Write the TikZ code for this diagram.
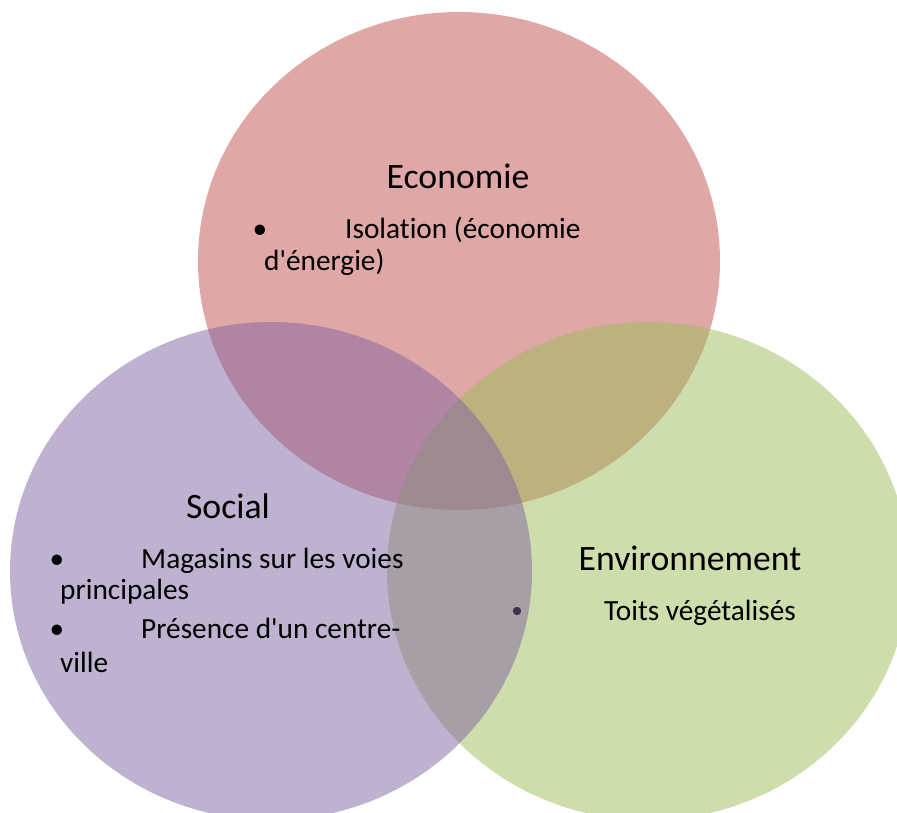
\documentclass[tikz,border=0pt]{standalone}
\usepackage{fontspec}
\setmainfont{Carlito}[Ligatures={TeXOff,NoCommon}]
\definecolor{ecored}{HTML}{C0504D}
\definecolor{envgreen}{HTML}{9BBB59}
\definecolor{socpurple}{HTML}{8064A2}
\definecolor{dotpurple}{HTML}{3F3151}
\tikzset{
  venn/.style={fill opacity=0.5},
  title/.style={anchor=base, inner sep=0pt, font=\fontsize{35.7}{42}\selectfont},
  item/.style={anchor=base west, inner sep=0pt, font=\fontsize{29.3}{34}\selectfont},
  bullet/.style={item, anchor=base},
}

\begin{document}
\begin{tikzpicture}[x=1pt,y=-1pt]
    \clip (0,0) rectangle (897,812) ;
\fill[ecored,venn] (459,261) ellipse [x radius=261, y radius=249] ; % Economie
\fill[envgreen,venn] (648,571) ellipse [x radius=261, y radius=249] ; % Environnement
\fill[socpurple,venn] (271,571) ellipse [x radius=261, y radius=249] ; % Social
\node[title] (eco) at (458,188) {Economie} ;
\node[bullet] (ecob1) at (260,238) {•} ;
\node[item] (ecot1) at (345,238) {Isolation (économie} ;
\node[item] (ecot1b) at (264,270) {d'énergie)} ;
\node[title] (soc) at (228,518) {Social} ;
\node[bullet] (socb1) at (57,568) {•} ;
\node[item] (soct1) at (141,568) {Magasins sur les voies} ;
\node[item] (soct1b) at (60,599) {principales} ;
\node[bullet] (socb2) at (57,638) {•} ;
\node[item] (soct2) at (141,638) {Présence d'un centre-} ;
\node[item] (soct2b) at (60,672) {ville} ;
\node[title] (env) at (690,570) {Environnement} ;
\fill[dotpurple] (517,611) circle (4.2) ; % envb1
\node[item] (envt1) at (604,620) {Toits végétalisés} ;

    \end{tikzpicture}
\end{document}
